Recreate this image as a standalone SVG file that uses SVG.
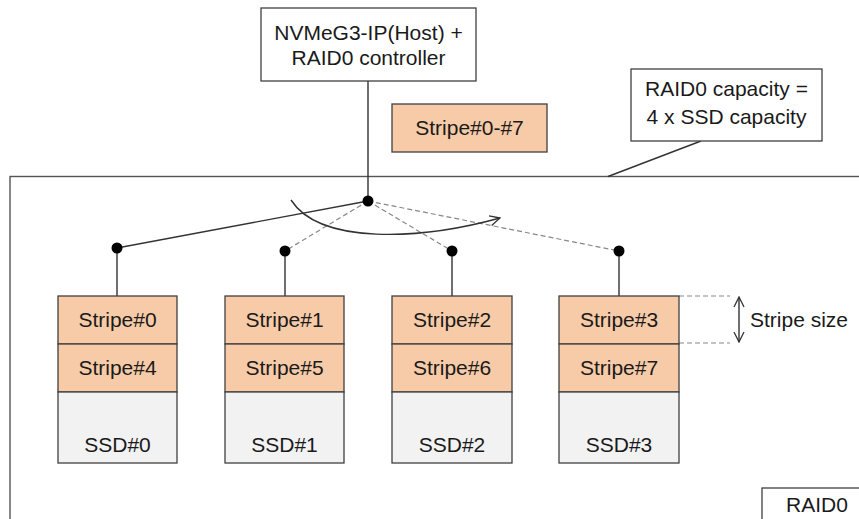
<svg xmlns="http://www.w3.org/2000/svg" width="859" height="519" viewBox="0 0 859 519">
<style>
text{font-family:"Liberation Sans",Arial,sans-serif;font-size:21px;fill:#1a1a1a;text-anchor:middle}
.box{fill:#fff;stroke:#404040;stroke-width:1.3}
.stripe{fill:#F8CBA8;stroke:#404040;stroke-width:1.3}
.ssd{fill:#F2F2F2;stroke:#404040;stroke-width:1.3}
.ln{fill:none;stroke:#333;stroke-width:1.4}
.dash{fill:none;stroke:#888;stroke-width:1.2;stroke-dasharray:5 3}
.dot{fill:#000}
</style>
<defs>
<marker id="open" viewBox="0 0 12 12" refX="11" refY="6" markerWidth="12" markerHeight="12" markerUnits="userSpaceOnUse" orient="auto-start-reverse">
<path d="M1,1 L11,6 L1,11" fill="none" stroke="#333" stroke-width="1.3"/>
</marker>
</defs>
<g id="raid0-area">
<rect x="10" y="176.5" width="880" height="360" fill="none" stroke="#555" stroke-width="1.4"/>
</g>
<g id="connectors">
<line class="ln" x1="368" y1="81" x2="368" y2="201"/>
<line class="ln" x1="701" y1="141" x2="608" y2="176.5"/>
<line class="ln" x1="368" y1="201" x2="117" y2="248"/>
<line class="dash" x1="368" y1="201" x2="285" y2="251"/>
<line class="dash" x1="368" y1="201" x2="452" y2="251"/>
<line class="dash" x1="368" y1="201" x2="619" y2="251"/>
<line class="ln" x1="117" y1="248" x2="117" y2="296"/>
<line class="ln" x1="285" y1="251" x2="285" y2="296"/>
<line class="ln" x1="452" y1="251" x2="452" y2="296"/>
<line class="ln" x1="619" y1="251" x2="619" y2="296"/>
<path class="ln" d="M291,200 C320,245 420,240 500,218" marker-end="url(#open)"/>
<line class="dash" x1="679" y1="296" x2="730" y2="296"/>
<line class="dash" x1="679" y1="343" x2="730" y2="343"/>
<line class="ln" x1="739" y1="297" x2="739" y2="342" marker-start="url(#open)" marker-end="url(#open)"/>
<circle class="dot" cx="368" cy="201" r="5.5"/>
<circle class="dot" cx="117" cy="248" r="5.5"/>
<circle class="dot" cx="285" cy="251" r="5.5"/>
<circle class="dot" cx="452" cy="251" r="5.5"/>
<circle class="dot" cx="619" cy="251" r="5.5"/>
</g>
<g id="host">
<rect class="box" x="261" y="8" width="215" height="73"/>
<text x="368.5" y="40">NVMeG3-IP(Host) +</text>
<text x="368.5" y="65">RAID0 controller</text>
</g>
<g id="stripes-all">
<rect class="stripe" x="392" y="104" width="155" height="48"/>
<text x="469.5" y="135">Stripe#0-#7</text>
</g>
<g id="capacity">
<rect class="box" x="631" y="69" width="191" height="72"/>
<text x="726.5" y="96">RAID0 capacity =</text>
<text x="726.5" y="124">4 x SSD capacity</text>
</g>
<g id="ssd0">
<rect class="stripe" x="58" y="296" width="119" height="48"/>
<rect class="stripe" x="58" y="344" width="119" height="48"/>
<rect class="ssd" x="58" y="392" width="119" height="71"/>
<text x="117.5" y="327">Stripe#0</text>
<text x="117.5" y="375">Stripe#4</text>
<text x="117.5" y="452">SSD#0</text>
</g>
<g id="ssd1">
<rect class="stripe" x="225" y="296" width="119" height="48"/>
<rect class="stripe" x="225" y="344" width="119" height="48"/>
<rect class="ssd" x="225" y="392" width="119" height="71"/>
<text x="284.5" y="327">Stripe#1</text>
<text x="284.5" y="375">Stripe#5</text>
<text x="284.5" y="452">SSD#1</text>
</g>
<g id="ssd2">
<rect class="stripe" x="392" y="296" width="120" height="48"/>
<rect class="stripe" x="392" y="344" width="120" height="48"/>
<rect class="ssd" x="392" y="392" width="120" height="71"/>
<text x="452" y="327">Stripe#2</text>
<text x="452" y="375">Stripe#6</text>
<text x="452" y="452">SSD#2</text>
</g>
<g id="ssd3">
<rect class="stripe" x="559" y="296" width="120" height="48"/>
<rect class="stripe" x="559" y="344" width="120" height="48"/>
<rect class="ssd" x="559" y="392" width="120" height="71"/>
<text x="619" y="327">Stripe#3</text>
<text x="619" y="375">Stripe#7</text>
<text x="619" y="452">SSD#3</text>
</g>
<g id="stripe-size">
<text x="750" y="327" style="text-anchor:start">Stripe size</text>
</g>
<g id="raid0-label">
<rect class="box" x="762" y="488" width="110" height="50"/>
<text x="817" y="512">RAID0</text>
</g>
</svg>
